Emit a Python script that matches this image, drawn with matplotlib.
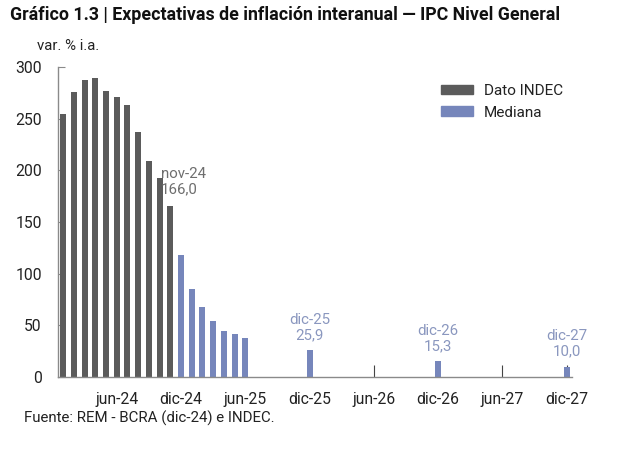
import matplotlib.pyplot as plt
from matplotlib.patches import Patch

plt.rcParams['font.family'] = ['Roboto', 'DejaVu Sans']

# datos mensuales INDEC (ene-24 a nov-24)
indec_meses = list(range(0, 11))
indec_vals = [254.2, 276.2, 287.9, 289.4, 276.4, 271.5, 263.4, 236.7, 209.0, 193.0, 166.0]

# mediana REM mensual (dic-24 a jun-25)
rem_meses = list(range(11, 18))
rem_vals = [118.0, 85.6, 67.8, 54.0, 44.6, 41.8, 37.9]

# mediana REM anual (dic-25, dic-26, dic-27)
rem_anual_meses = [23, 35, 47]
rem_anual_vals = [25.9, 15.3, 10.0]
rem_anual_labels = ['dic-25', 'dic-26', 'dic-27']

tick_pos = [5, 11, 17, 23, 29, 35, 41, 47]
tick_labels = ['jun-24', 'dic-24', 'jun-25', 'dic-25', 'jun-26', 'dic-26', 'jun-27', 'dic-27']

gris = '#5b5b5b'
azul = '#7686bb'
azul_txt = '#8a97bf'

fig = plt.figure(figsize=(6.28, 4.5), dpi=100)
ax = fig.add_axes([0.092, 0.162, 0.819, 0.689])

w = 0.55
ax.bar(indec_meses, indec_vals, width=w, color=gris, zorder=2)
ax.bar(rem_meses, rem_vals, width=w, color=azul, zorder=2)
ax.bar(rem_anual_meses, rem_anual_vals, width=w, color=azul, zorder=2)

ax.set_xlim(-0.5, 47.5)
ax.set_ylim(0, 300)
ax.set_yticks(range(0, 301, 50))
ax.set_xticks(tick_pos)
ax.set_xticklabels(tick_labels)

for s in ['top', 'right']:
    ax.spines[s].set_visible(False)
for s in ['left', 'bottom']:
    ax.spines[s].set_color('#8a8a8a')
    ax.spines[s].set_linewidth(1.0)
ax.tick_params(axis='y', direction='in', length=5, color='#8a8a8a', labelsize=11.3,
               labelcolor='#222222', pad=11.5)
ax.tick_params(axis='x', direction='in', length=9, color='#444444', labelsize=11.3,
               labelcolor='#222222', pad=11)
for t in ax.xaxis.get_major_ticks():
    t.tick1line.set_zorder(5)

# anotaciones
ax.text(9.1, indec_vals[-1] + 9, 'nov-24\n166,0', color='#6e6e6e', fontsize=10.8,
        ha='left', va='bottom', linespacing=1.1)
for m, v, lab in zip(rem_anual_meses, rem_anual_vals, rem_anual_labels):
    ax.text(m, v + 8, lab + '\n' + ('%.1f' % v).replace('.', ','), color=azul_txt,
            fontsize=10.8, ha='center', va='bottom', linespacing=1.1)

handles = [Patch(color=gris, label='Dato INDEC'), Patch(color=azul, label='Mediana')]
ax.legend(handles=handles, loc='upper right', bbox_to_anchor=(1.0, 0.975), frameon=False,
          fontsize=11, handlelength=2.1, handleheight=0.6, labelcolor='#222222',
          handletextpad=0.7, borderaxespad=0.2)

fig.text(0.016, 0.967, 'Gráfico 1.3 | Expectativas de inflación interanual — IPC Nivel General',
         fontsize=12.8, fontweight='bold', color='#111111', va='center', ha='left')
fig.text(0.059, 0.898, 'var. % i.a.', fontsize=10.8, color='#222222', va='center', ha='left')
fig.text(0.038, 0.071, 'Fuente: REM - BCRA (dic-24) e INDEC.', fontsize=10.8, color='#222222',
         va='center', ha='left')

fig.savefig('out.png', dpi=100, facecolor='white')
